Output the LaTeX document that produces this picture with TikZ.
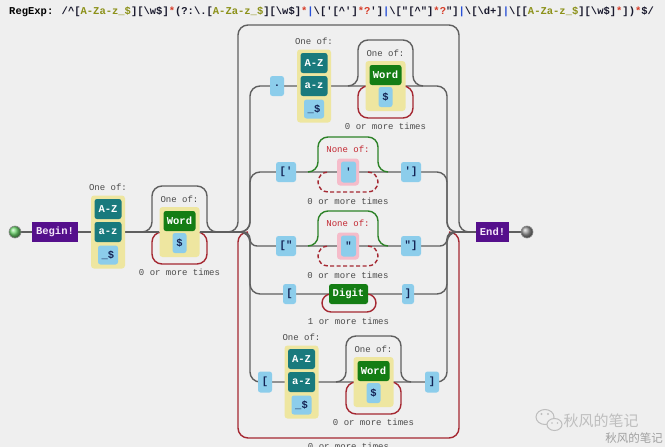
\documentclass[tikz,border=0pt]{standalone}
\usepackage{fontspec}
\newfontfamily\mono{Liberation Mono}
\newfontfamily\cjk{Noto Sans CJK SC}
\definecolor{bgc}{RGB}{239,239,239}
\definecolor{lnc}{RGB}{95,95,95}
\definecolor{redl}{RGB}{165,40,50}
\definecolor{grnl}{RGB}{45,130,40}
\definecolor{purp}{RGB}{85,15,140}
\definecolor{tealc}{RGB}{25,122,125}
\definecolor{litc}{RGB}{140,205,235}
\definecolor{yelc}{RGB}{238,230,160}
\definecolor{wordc}{RGB}{20,125,20}
\definecolor{pinkc}{RGB}{245,188,202}
\definecolor{navyc}{RGB}{20,35,85}
\definecolor{lblc}{RGB}{75,75,75}
\definecolor{nonec}{RGB}{195,40,50}
\definecolor{tdark}{RGB}{25,25,45}
\definecolor{tolive}{RGB}{140,145,25}
\definecolor{tredc}{RGB}{215,60,40}
\definecolor{tbluec}{RGB}{40,80,215}
\definecolor{wmc}{RGB}{190,190,190}
\definecolor{startc}{RGB}{110,215,110}
\definecolor{stopc}{RGB}{150,150,150}
\definecolor{anctext}{RGB}{245,230,250}
\pgfdeclarelayer{canvas}
\pgfdeclarelayer{lines}
\pgfsetlayers{canvas,lines,main}
\tikzset{
 ln/.style={draw=lnc,line width=1.4pt},
 rl/.style={draw=redl,line width=1.4pt},
 gl/.style={draw=grnl,line width=1.4pt},
 bxfont/.style={font=\mono\bfseries\fontsize{10.5}{10.5}\selectfont},
 boxbase/.style={bxfont,inner sep=0pt,rounded corners=2.5pt},
 litbox/.style={boxbase,fill=litc,text=navyc},
 rngbox/.style={boxbase,fill=tealc,text=white,minimum width=27pt,minimum height=20pt},
 wordbox/.style={boxbase,fill=wordc,text=white,minimum height=20pt},
 yelbox/.style={fill=yelc,rounded corners=3pt,inner sep=0pt},
 pinkbox/.style={fill=pinkc,rounded corners=3pt,inner sep=0pt},
 anchbox/.style={bxfont,fill=purp,text=anctext,inner sep=0pt,minimum height=20pt},
 lbl/.style={font=\mono\fontsize{9}{9}\selectfont,text=lblc,inner sep=0pt},
 nlbl/.style={lbl,text=nonec},
 endpt/.style={circle,minimum size=12pt,inner sep=0pt,draw=black!45,line width=0.6pt,shading=ball},
}
\newcommand\charsetg[3]{%
 \node[yelbox,minimum width=34pt,minimum height=73pt] (#1) at (#2,#3) {};
 \node[lbl] at (#2,#3-45) {One of:};
 \node[rngbox] (#1az) at (#2,#3-23) {A-Z};
 \node[rngbox] (#1lz) at (#2,#3) {a-z};
 \node[litbox,minimum width=20pt,minimum height=19pt] (#1us) at (#2,#3+23) {\_\$};
}
\newcommand\wordg[3]{%
 \begin{pgfonlayer}{lines}
 \draw[ln,rounded corners=10pt] (#2-37.5,#3) -- (#2-27.5,#3) -- (#2-27.5,#3-46) -- (#2+27.5,#3-46) -- (#2+27.5,#3) -- (#2+37.5,#3);
 \draw[rl,rounded corners=10pt] (#2+17.5,#3) -- (#2+27.5,#3) -- (#2+27.5,#3+32) -- (#2-27.5,#3+32) -- (#2-27.5,#3) -- (#2-17.5,#3);
 \end{pgfonlayer}
 \node[yelbox,minimum width=40pt,minimum height=50pt] (#1) at (#2,#3) {};
 \node[lbl] at (#2,#3-33) {One of:};
 \node[wordbox,minimum width=32pt] (#1w) at (#2,#3-11) {Word};
 \node[litbox,minimum width=14pt,minimum height=20pt] (#1d) at (#2,#3+11) {\$};
 \node[lbl] at (#2,#3+40) {0 or more times};
}
\newcommand\noneg[4]{%
 \begin{pgfonlayer}{lines}
 \draw[gl,rounded corners=10pt] (#2-40,#3) -- (#2-30,#3) -- (#2-30,#3-35) -- (#2+30,#3-35) -- (#2+30,#3) -- (#2+40,#3);
 \draw[rl,dash pattern=on 4pt off 2.5pt,rounded corners=10pt] (#2+20,#3) -- (#2+30,#3) -- (#2+30,#3+20) -- (#2-30,#3+20) -- (#2-30,#3) -- (#2-20,#3);
 \end{pgfonlayer}
 \node[pinkbox,minimum width=22pt,minimum height=27pt] (#1) at (#2,#3) {};
 \node[litbox,minimum width=15pt,minimum height=21pt] (#1c) at (#2+0.5,#3) {#4};
 \node[nlbl] at (#2,#3-23) {None of:};
 \node[lbl] at (#2,#3+29) {0 or more times};
}
\begin{document}
\begin{tikzpicture}[x=1pt,y=-1pt]
\begin{pgfonlayer}{canvas}
\fill[bgc] (0,0) rectangle (665,447);
\end{pgfonlayer}
\useasboundingbox (0,0) rectangle (665,447);
% title
\node[anchor=west,font=\mono\bfseries\fontsize{10.5}{12}\selectfont,text=black,inner sep=0pt] (title) at (9,12) {RegExp: \textcolor{tdark}{/\textasciicircum[\textcolor{tolive}{A-Za-z\_\$}][\textbackslash w\$]\textcolor{tredc}{*}(?:\textbackslash .[\textcolor{tolive}{A-Za-z\_\$}][\textbackslash w\$]\textcolor{tredc}{*}\textcolor{tbluec}{|}\textbackslash [\textquotesingle[\textasciicircum\textquotesingle]\textcolor{tredc}{*?}\textquotesingle]\textcolor{tbluec}{|}\textbackslash [\textquotedbl[\textasciicircum\textquotedbl]\textcolor{tredc}{*?}\textquotedbl]\textcolor{tbluec}{|}\textbackslash [\textbackslash d+]\textcolor{tbluec}{|}\textbackslash [[\textcolor{tolive}{A-Za-z\_\$}][\textbackslash w\$]\textcolor{tredc}{*}])\textcolor{tredc}{*}\$/}};
% main sequence
\node[endpt,ball color=startc] (start) at (15,232) {};
\node[anchbox,minimum width=46pt] (begin) at (55,232) {Begin!};
\charsetg{cA}{108}{232}
\wordg{wA}{179.5}{232}
\coordinate (altL) at (240,232);
\coordinate (altR) at (457,232);
\node[anchbox,minimum width=33pt] (end) at (492.5,232) {End!};
\node[endpt,ball color=stopc] (stop) at (527,232) {};
\begin{pgfonlayer}{lines}
\draw[rl,rounded corners=10pt] (449,232) -- (459,232) -- (459,438) -- (238,438) -- (238,232) -- (248,232);
\draw[ln] (start) -- (begin);
\draw[ln] (begin) -- (cA);
\draw[ln] (cA) -- (wA);
\draw[ln] (wA) -- (altL);
\draw[ln] (altR) -- (end);
\draw[ln] (end) -- (stop);
\draw[ln,rounded corners=10pt] (228,232) -- (238,232) -- (238,25) -- (459,25) -- (459,232) -- (469,232);
\foreach \by/\rr in {86/10,172/10,246/7,294/10,382/10}
 \draw[ln,rounded corners=\rr pt] (altL) -- (250,232) -- (250,\by) -- (447,\by) -- (447,232) -- (altR);
\draw[rl,rounded corners=9pt] (365.5,294) -- (376,294) -- (376,312) -- (322,312) -- (322,294) -- (331.5,294);
\end{pgfonlayer}
% branch 1
\node[litbox,minimum width=14pt,minimum height=20pt] (dot) at (277,86) {.};
\charsetg{cB}{314}{86}
\wordg{wB}{385.5}{86}
% branch 2
\node[litbox,minimum width=20pt,minimum height=20pt] (sqo) at (286,172) {[\textquotesingle};
\noneg{nA}{348}{172}{\textquotesingle}
\node[litbox,minimum width=20pt,minimum height=20pt] (sqc) at (411,172) {\textquotesingle]};
% branch 3
\node[litbox,minimum width=20pt,minimum height=20pt] (dqo) at (286,246) {[\textquotedbl};
\noneg{nB}{348}{246}{\textquotedbl}
\node[litbox,minimum width=20pt,minimum height=20pt] (dqc) at (411,246) {\textquotedbl]};
% branch 4
\node[litbox,minimum width=13pt,minimum height=20pt] (dgo) at (289.5,294) {[};
\node[wordbox,minimum width=39pt] (dig) at (348.5,294) {Digit};
\node[lbl] at (348.5,321) {1 or more times};
\node[litbox,minimum width=12pt,minimum height=20pt] (dgc) at (408,294) {]};
% branch 5
\node[litbox,minimum width=14pt,minimum height=21pt] (ido) at (265,382) {[};
\charsetg{cC}{301.5}{382}
\wordg{wC}{373.5}{382}
\node[litbox,minimum width=14pt,minimum height=21pt] (idc) at (432,382) {]};
% outer repetition label (cut by the lower edge, as in the reference)
\node[lbl,anchor=base] (outerlbl) at (348.5,449.5) {0 or more times};
% watermark
\draw[wmc,line width=1pt,fill=bgc] (545,417) ellipse [x radius=9, y radius=7.5];
\draw[wmc,line width=1pt,fill=bgc] (554.5,424.5) ellipse [x radius=7.5, y radius=6];
\fill[wmc] (541.5,414) circle (1.1);
\fill[wmc] (548,414) circle (1.1);
\fill[wmc] (552,423) circle (0.9);
\fill[wmc] (557.5,423) circle (0.9);
\node[font=\cjk\fontsize{15}{15}\selectfont,text=wmc,inner sep=0pt] (wm) at (601,421) {秋风的笔记};
\node[font=\cjk\fontsize{11.5}{11.5}\selectfont,text=gray!75,inner sep=0pt] (wm2) at (634,438) {秋风的笔记};
\end{tikzpicture}
\end{document}
